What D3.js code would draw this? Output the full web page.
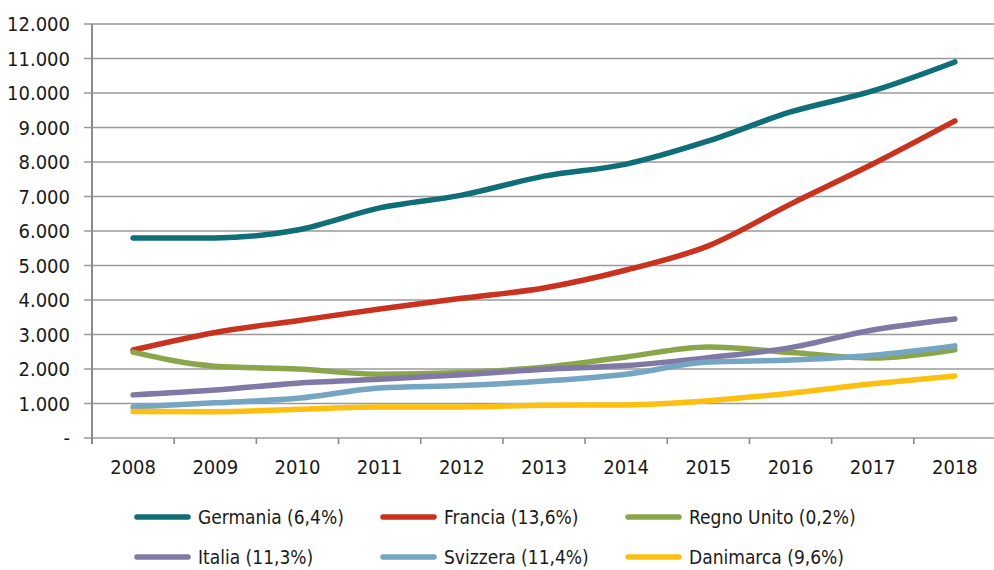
<!DOCTYPE html>
<html>
<head>
<meta charset="utf-8">
<script src="https://cdn.jsdelivr.net/npm/d3@7"></script>
<style>
  body { margin: 0; background: #fff; }
  text { font-family: "Liberation Sans Narrow", "DejaVu Sans Condensed", "Roboto", sans-serif; fill: #1a1a1a; }
</style>
</head>
<body>
<div id="chart"></div>
<script>
"use strict";

var years = ["2008","2009","2010","2011","2012","2013","2014","2015","2016","2017","2018"];
var yTicks = [0,1000,2000,3000,4000,5000,6000,7000,8000,9000,10000,11000,12000];

var germania  = [5800,5800,6030,6670,7040,7590,7940,8610,9450,10060,10900];
var francia   = [2550,3060,3400,3740,4050,4350,4870,5570,6780,7940,9190];
var regnoUnito= [2490,2080,2000,1850,1900,2050,2350,2640,2480,2320,2560];
var italia    = [1250,1390,1590,1700,1830,1990,2100,2330,2620,3130,3450];
var svizzera  = [900,1020,1150,1450,1520,1650,1850,2200,2260,2400,2670];
var danimarca = [770,760,830,900,900,950,960,1080,1300,1570,1800];

var seriesNames = ["Germania (6,4%)","Francia (13,6%)","Regno Unito (0,2%)","Italia (11,3%)","Svizzera (11,4%)","Danimarca (9,6%)"];
var seriesColors = ["#0f6e78","#c8321e","#8ba64a","#8078a5","#74a6c3","#fdc010"];
var seriesValues = [germania, francia, regnoUnito, italia, svizzera, danimarca];

var width = 994, height = 570;
var margin = {left: 92, right: -2, top: 24, bottom: 132};

var svg = d3.select("#chart").append("svg").attr("width", width).attr("height", height);

var x = d3.scaleBand().domain(years).range([margin.left, width - margin.right]);
var y = d3.scaleLinear().domain([0, 12000]).range([height - margin.bottom, margin.top]);

var fmt = function(v){ return v === 0 ? "-" : d3.format(",")(v).replace(/,/g, "."); };

// gridlines
svg.append("g").selectAll("line").data(yTicks).join("line")
  .attr("x1", margin.left - 8).attr("x2", width)
  .attr("y1", function(d){ return y(d); }).attr("y2", function(d){ return y(d); })
  .attr("stroke", "#9a9a9a").attr("stroke-width", 1.6);

// y labels
svg.append("g").selectAll("text").data(yTicks).join("text")
  .attr("x", 70).attr("y", function(d){ return y(d); })
  .attr("dy", "0.35em").attr("text-anchor", "end")
  .style("font-size", "20px")
  .text(fmt);

// y axis line
svg.append("line")
  .attr("x1", margin.left).attr("x2", margin.left)
  .attr("y1", y(12000)).attr("y2", y(0) + 6)
  .attr("stroke", "#8c8c8c").attr("stroke-width", 2);

// x ticks at band boundaries
var bounds = years.map(function(d){ return x(d); }).concat([x(years[years.length-1]) + x.bandwidth()]);
svg.append("g").selectAll("line").data(bounds.slice(1)).join("line")
  .attr("x1", function(d){ return d; }).attr("x2", function(d){ return d; })
  .attr("y1", y(0)).attr("y2", y(0) + 6)
  .attr("stroke", "#8c8c8c").attr("stroke-width", 1.6);

// x labels
svg.append("g").selectAll("text").data(years).join("text")
  .attr("x", function(d){ return x(d) + x.bandwidth()/2; })
  .attr("y", y(0) + 36)
  .attr("text-anchor", "middle")
  .style("font-size", "20px")
  .text(function(d){ return d; });

// lines
var line = d3.line()
  .x(function(d, i){ return x(years[i]) + x.bandwidth()/2; })
  .y(function(d){ return y(d); })
  .curve(d3.curveMonotoneX);

svg.append("g").selectAll("path").data(seriesValues).join("path")
  .attr("d", line)
  .attr("fill", "none")
  .attr("stroke", function(d, i){ return seriesColors[i]; })
  .attr("stroke-width", 5.5)
  .attr("stroke-linecap", "round")
  .attr("stroke-linejoin", "round");

// legend
var legX = [137, 383, 628], legY = [517, 557];
var leg = svg.append("g").selectAll("g").data(seriesNames).join("g")
  .attr("transform", function(d, i){ return "translate(" + legX[i % 3] + "," + legY[Math.floor(i / 3)] + ")"; });
leg.append("line")
  .attr("x1", 0).attr("x2", 51).attr("y1", 0).attr("y2", 0)
  .attr("stroke", function(d, i){ return seriesColors[i]; })
  .attr("stroke-width", 5.5).attr("stroke-linecap", "round");
leg.append("text")
  .attr("x", 61).attr("y", 0).attr("dy", "0.35em")
  .style("font-size", "19px")
  .text(function(d){ return d; });
</script>
</body>
</html>
